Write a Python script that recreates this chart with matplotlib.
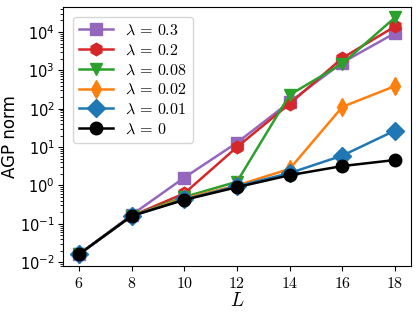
import numpy as np
import matplotlib
matplotlib.use("Agg")
import matplotlib.pyplot as plt

plt.rcParams['mathtext.fontset'] = 'cm'
plt.rcParams['axes.formatter.use_mathtext'] = True

L = [6, 8, 10, 12, 14, 16, 18]
lam_labels = ['0.3', '0.2', '0.08', '0.02', '0.01', '0']
agp = {
    '0.3':  [0.016, 0.17, 1.6, 13, 150, 1600, 9400],
    '0.2':  [0.016, 0.16, 0.62, 10, 135, 2100, 14000],
    '0.08': [0.016, 0.16, 0.5, 1.25, 230, 1500, 24000],
    '0.02': [0.016, 0.16, 0.46, 1.0, 2.7, 112, 390],
    '0.01': [0.016, 0.16, 0.43, 0.95, 2.1, 6.0, 27],
    '0':    [0.016, 0.16, 0.42, 0.9, 1.85, 3.2, 4.6],
}
colors = ['tab:purple', 'tab:red', 'tab:green', 'tab:orange', 'tab:blue', 'black']
markers = ['s', 'h', 'v', 'd', 'D', 'o']

fig, ax = plt.subplots(figsize=(4.18, 3.15), dpi=100)
for lab, c, m in zip(lam_labels, colors, markers):
    ax.plot(L, agp[lab], color=c, marker=m, markersize=9, lw=1.8,
            label=r'$\lambda\,=\,%s$' % lab)
ax.set_yscale('log')
ax.set_ylim(8e-3, 4.5e4)
ax.set_xticks(L)
for t in ax.get_xticklabels():
    t.set_fontfamily('cmr10')
ax.tick_params(axis='x', labelsize=11.5)
ax.tick_params(axis='y', labelsize=10.5, pad=2.5)
ax.set_xlabel(r'$L$', fontsize=14, labelpad=0)
ax.set_ylabel('AGP norm', fontsize=12, labelpad=1)
ax.legend(loc='upper left', fontsize=11.5, handlelength=2.1, labelspacing=0.3,
          borderaxespad=0.6)
fig.subplots_adjust(left=0.151, right=0.983, top=0.978, bottom=0.156)
fig.savefig('out.png')
